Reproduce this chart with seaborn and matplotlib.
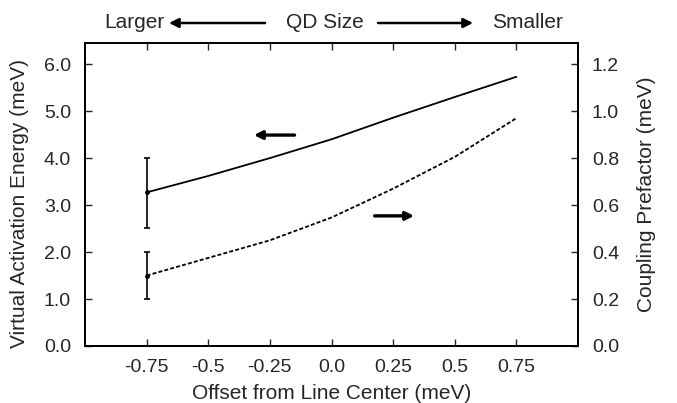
import matplotlib
matplotlib.use("Agg")
import matplotlib.pyplot as plt
import seaborn as sns
import pandas as pd

# Offset from line center (meV)
offsets = [-0.75, -0.5, -0.25, 0.0, 0.25, 0.5, 0.75]
# Virtual activation energy (meV), left axis
activation = [3.27, 3.62, 4.00, 4.40, 4.86, 5.30, 5.73]
# Coupling prefactor (meV), right axis
prefactor = [0.30, 0.375, 0.45, 0.547, 0.67, 0.805, 0.97]

# Uncertainty at the first point of each curve
act_err_lo, act_err_hi = 0.76, 0.74
pre_err_lo, pre_err_hi = 0.10, 0.10

xtick_vals = [-0.75, -0.5, -0.25, 0.0, 0.25, 0.5, 0.75]
xtick_labels = ["-0.75", "-0.5", "-0.25", "0.0", "0.25", "0.5", "0.75"]
left_ticks = [0.0, 1.0, 2.0, 3.0, 4.0, 5.0, 6.0]
right_ticks = [0.0, 0.2, 0.4, 0.6, 0.8, 1.0, 1.2]

sns.set_theme(style="ticks")
plt.rcParams["font.family"] = ["Liberation Sans", "DejaVu Sans"]

LABEL_FS = 15
TICK_FS = 14

df = pd.DataFrame({"offset": offsets, "activation": activation,
                   "prefactor": prefactor})

fig = plt.figure(figsize=(6.77, 4.03), dpi=100)
ax = fig.add_axes([85 / 677, 1 - 346 / 403, (578 - 85) / 677, (346 - 43) / 403])
ax2 = ax.twinx()

sns.lineplot(data=df, x="offset", y="activation", ax=ax, color="black",
             lw=1.3, linestyle="-")
sns.lineplot(data=df, x="offset", y="prefactor", ax=ax2, color="black",
             lw=1.3, linestyle=(0, (2.2, 1.2)))

ax.errorbar([offsets[0]], [activation[0]],
            yerr=[[act_err_lo], [act_err_hi]], fmt="o", ms=2.5,
            color="black", ecolor="black", elinewidth=1.2, capsize=2.5,
            capthick=1.2)
ax2.errorbar([offsets[0]], [prefactor[0]],
             yerr=[[pre_err_lo], [pre_err_hi]], fmt="o", ms=2.5,
             color="black", ecolor="black", elinewidth=1.2, capsize=2.5,
             capthick=1.2)

ax.set_xlim(-1.0, 1.0)
ax.set_ylim(0, 6.45)
ax2.set_ylim(0, 1.29)

ax.set_xticks(xtick_vals)
ax.set_xticklabels(xtick_labels)
ax.set_yticks(left_ticks)
ax.set_yticklabels([f"{v:.1f}" for v in left_ticks])
ax2.set_yticks(right_ticks)
ax2.set_yticklabels([f"{v:.1f}" for v in right_ticks])

ax.set_xlabel("Offset from Line Center (meV)", fontsize=LABEL_FS, labelpad=6)
ax.set_ylabel("Virtual Activation Energy (meV)", fontsize=LABEL_FS,
              labelpad=11)
ax.yaxis.label.set_y(0.47)
ax2.set_ylabel("Coupling Prefactor (meV)", fontsize=LABEL_FS, labelpad=13)

ax.tick_params(axis="x", direction="in", top=True, bottom=True, length=5,
               width=1, labelsize=TICK_FS, pad=9)
ax.tick_params(axis="y", direction="in", left=True, right=False, length=5,
               width=1, labelsize=TICK_FS, pad=10)
ax2.tick_params(axis="y", direction="in", right=True, length=5, width=1,
                labelsize=TICK_FS, pad=10)

for a in (ax, ax2):
    for s in a.spines.values():
        s.set_visible(True)
        s.set_linewidth(1.4)
        s.set_color("black")

# Arrows pointing each curve to its axis
ax.annotate("", xy=(-0.315, 4.49), xytext=(-0.15, 4.49),
            arrowprops=dict(arrowstyle="-|>", lw=2.4, color="black",
                            mutation_scale=12, shrinkA=0, shrinkB=0))
ax.annotate("", xy=(0.335, 2.77), xytext=(0.175, 2.77),
            arrowprops=dict(arrowstyle="-|>", lw=2.4, color="black",
                            mutation_scale=12, shrinkA=0, shrinkB=0))

# Size scale above the plot
ytop = 1 - 23 / 403
fig.text(134 / 677, ytop, "Larger", ha="center", va="center",
         fontsize=LABEL_FS)
fig.text(325 / 677, ytop, "QD Size", ha="center", va="center",
         fontsize=LABEL_FS)
fig.text(527 / 677, ytop, "Smaller", ha="center", va="center",
         fontsize=LABEL_FS)
fig.add_artist(matplotlib.patches.FancyArrowPatch(
    (265 / 677, ytop), (169 / 677, ytop), transform=fig.transFigure,
    arrowstyle="-|>", mutation_scale=14, lw=1.8, color="black",
    shrinkA=0, shrinkB=0))
fig.add_artist(matplotlib.patches.FancyArrowPatch(
    (378 / 677, ytop), (473 / 677, ytop), transform=fig.transFigure,
    arrowstyle="-|>", mutation_scale=14, lw=1.8, color="black",
    shrinkA=0, shrinkB=0))

fig.savefig("out.png", dpi=100)
